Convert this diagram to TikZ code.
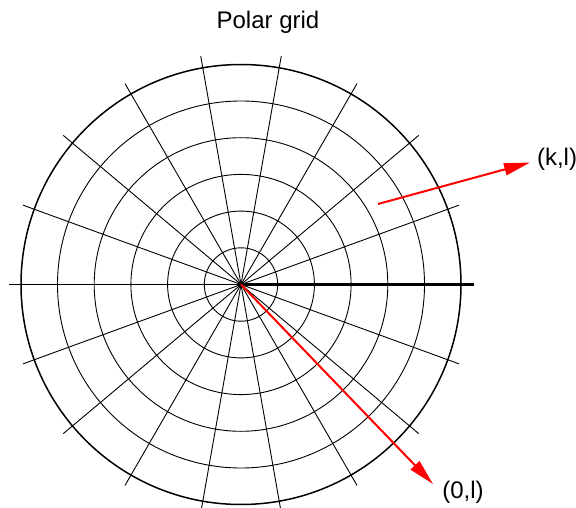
\documentclass[tikz,border=0pt]{standalone}
\usepackage{fontspec}
\setmainfont{Liberation Sans}
\usetikzlibrary{arrows.meta}
\tikzset{
  thinline/.style={line width=0.9pt, black},
  redarrow/.style={red, line width=2pt, -{Triangle[length=26pt,width=12pt]}},
  lbl/.style={inner sep=0pt, font=\fontsize{24}{28}\selectfont}
}
\begin{document}
\begin{tikzpicture}[x=1pt,y=-1pt]
\useasboundingbox (0,0) rectangle (576,508);
\coordinate (O) at (241,284.5);
\foreach \r in {36.7,73.4,110.1,146.8,183.5}
  \draw[thinline] (O) circle (\r pt);
\draw[line width=1.5pt] (O) circle (220pt);
\foreach \a in {20,40,...,340}
  \draw[thinline] (O) -- ++(\a:232pt);
\draw[line width=2.2pt] (O) -- ++(233pt,0pt);
\fill (O) circle (3pt);
\node[lbl] (title) at (268,22) {Polar grid};
\node[lbl] (kl) at (557,159) {(k,l)};
\node[lbl] (zl) at (463,492) {(0,l)};
\coordinate (s2) at (378,204);
\coordinate (t2) at (530,162.5);
\coordinate (t1) at (433,484);
\draw[redarrow] (O) -- (t1);
\draw[redarrow] (s2) -- (t2);
\end{tikzpicture}
\end{document}
